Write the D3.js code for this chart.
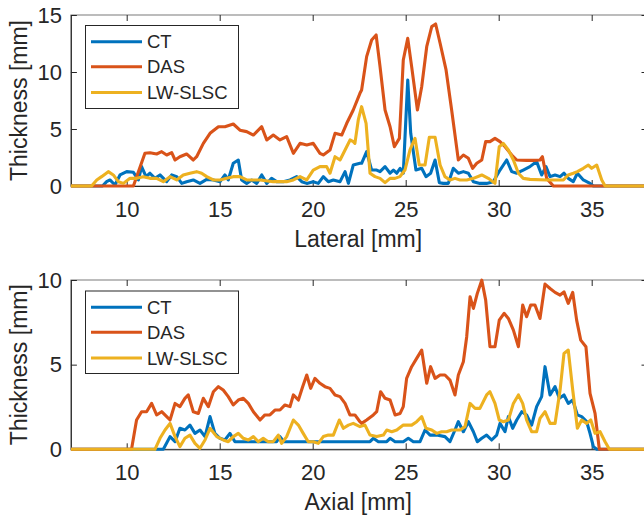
<!DOCTYPE html>
<html>
<head>
<meta charset="utf-8">
<script src="https://cdn.jsdelivr.net/npm/d3@7"></script>
<style>
  html, body { margin: 0; padding: 0; background: #fff; }
  svg { display: block; }
  text { font-family: "Liberation Sans", Arial, Helvetica, sans-serif; fill: #262626; }
</style>
</head>
<body>
<svg id="chart" width="644" height="517"></svg>
<script>
// ---------------- DATA ----------------
const seriesNames = ["CT", "DAS", "LW-SLSC"];
const xTicks = [10, 15, 20, 25, 30, 35];
const topYTicks = [0, 5, 10, 15];
const bottomYTicks = [0, 5, 10];

// Lateral panel
const latCTx = [7, 8.7, 8.92, 9.1, 9.37, 9.64, 10.0, 10.36, 10.63, 10.8, 11.04, 11.25, 11.52, 11.79, 12.15, 12.42, 12.69, 12.96, 13.22, 13.58, 13.94, 14.3, 14.66, 15.02, 15.28, 15.46, 15.73, 16.0, 16.18, 16.45, 16.72, 16.99, 17.26, 17.53, 17.79, 18.06, 18.42, 18.78, 19.14, 19.41, 19.68, 20.03, 20.3, 20.57, 20.84, 21.11, 21.47, 21.74, 21.92, 22.18, 22.54, 22.63, 22.9, 23.17, 23.44, 23.62, 23.89, 24.16, 24.34, 24.52, 24.7, 24.87, 25.11, 25.27, 25.55, 25.86, 26.09, 26.34, 26.58, 26.81, 27.02, 27.29, 27.56, 27.83, 28.1, 28.37, 28.64, 28.99, 29.35, 29.71, 30.07, 30.43, 30.7, 30.97, 31.32, 31.68, 32.04, 32.31, 32.54, 32.76, 33.03, 33.3, 33.51, 33.74, 34.01, 34.23, 34.55, 34.91, 35.09, 38];
const latCTy = [0, 0, 0.38, 0.53, 0.09, 0.97, 1.26, 1.2, 0.53, 1.7, 0.82, 1.12, 0.67, 0.97, 0.38, 0.97, 0.82, 0.23, 0.38, 0.53, 0.23, 0.58, 0.53, 0.38, 0.97, 0.53, 1.99, 2.28, 0.53, 0.23, 0.53, 0.23, 0.97, 0.23, 0.67, 0.38, 0.38, 0.53, 0.82, 0.38, 0.23, 0.38, 0.23, 0.82, 0.38, 0.53, 0.38, 1.26, 0.23, 1.84, 1.99, 1.99, 3.01, 1.4, 1.4, 1.26, 1.7, 1.12, 1.4, 1.12, 1.55, 1.12, 9.3, 4.62, 1.4, 1.55, 0.82, 1.12, 2.28, 0.29, 0.23, 0.23, 1.55, 1.12, 1.26, 1.12, 0.38, 0.23, 0.23, 0.38, 1.4, 2.28, 1.26, 1.12, 1.4, 1.7, 2.14, 0.97, 1.7, 0.82, 0.97, 0.82, 1.12, 0.67, 0.38, 1.12, 0.53, 0.23, 0, 0];

const latDASx = [7, 10.36, 10.98, 11.25, 11.61, 11.88, 12.15, 12.42, 12.6, 12.86, 13.22, 13.58, 13.76, 14.12, 14.48, 14.93, 15.28, 15.73, 16.09, 16.45, 16.81, 17.26, 17.53, 17.88, 18.24, 18.6, 18.96, 19.32, 19.68, 20.03, 20.39, 20.57, 20.93, 21.2, 21.56, 21.83, 22.18, 22.54, 22.63, 22.9, 23.17, 23.41, 23.62, 23.89, 24.16, 24.39, 24.66, 24.87, 25.11, 25.32, 25.63, 25.86, 26.13, 26.4, 26.61, 26.85, 27.17, 27.47, 27.83, 28.1, 28.37, 28.6, 28.82, 29.09, 29.3, 29.53, 29.8, 30.07, 30.34, 30.7, 30.97, 31.5, 31.86, 32.22, 32.35, 32.58, 32.94, 38];
const latDASy = [0, 0, 2.87, 2.92, 2.81, 3.01, 2.72, 2.92, 2.28, 2.57, 2.81, 2.28, 2.57, 3.74, 4.62, 5.2, 5.2, 5.44, 4.9, 4.77, 4.47, 5.2, 4.04, 4.47, 4.04, 4.33, 2.87, 3.74, 3.6, 3.74, 2.87, 2.72, 3.16, 4.62, 4.47, 5.5, 6.67, 8.13, 8.42, 11.35, 12.81, 13.25, 10.47, 6.67, 5.2, 3.45, 4.18, 11.05, 12.95, 10.47, 6.67, 8.71, 12.22, 13.98, 14.21, 12.52, 10.18, 6.67, 2.28, 2.72, 2.43, 1.55, 1.99, 2.28, 3.89, 3.89, 4.18, 3.89, 3.45, 2.72, 2.28, 2.25, 2.25, 2.28, 2.57, 0.67, 0, 0];

const latLWx = [7, 8.11, 8.39, 8.65, 9.01, 9.28, 9.55, 9.82, 10.18, 10.53, 10.89, 11.25, 11.61, 11.97, 12.33, 12.69, 13.04, 13.4, 13.76, 14.03, 14.3, 14.66, 15.02, 15.37, 15.73, 16.09, 16.45, 17.17, 17.88, 18.6, 18.96, 19.32, 19.68, 20.03, 20.39, 20.75, 20.93, 21.2, 21.47, 21.74, 22.01, 22.18, 22.27, 22.45, 22.63, 22.87, 23.08, 23.35, 23.62, 23.89, 24.16, 24.42, 24.69, 24.96, 25.23, 25.5, 25.73, 26.04, 26.27, 26.58, 26.85, 27.11, 27.38, 27.65, 27.92, 28.28, 28.64, 29.09, 29.44, 29.8, 30.03, 30.25, 30.52, 30.79, 31.06, 31.32, 31.68, 32.58, 33.48, 33.74, 34.01, 34.23, 34.55, 34.82, 35.0, 35.27, 35.54, 35.72, 38];
const latLWy = [0, 0, 0.53, 0.82, 1.26, 0.97, 0.38, 0.23, 0.67, 0.67, 0.82, 0.67, 0.67, 0.38, 0.82, 0.53, 0.97, 1.12, 1.26, 1.12, 0.82, 0.53, 0.53, 0.67, 0.82, 0.82, 0.53, 0.53, 0.38, 0.38, 0.53, 0.82, 0.53, 1.4, 1.7, 1.7, 1.12, 2.57, 2.28, 3.16, 4.04, 3.89, 3.74, 5.79, 6.96, 5.5, 1.12, 0.82, 0.67, 0.29, 0.67, 0.67, 0.82, 1.4, 3.16, 4.18, 1.84, 1.84, 4.27, 4.27, 1.84, 0.82, 0.53, 0.67, 0.53, 0.53, 0.67, 0.97, 0.67, 0.23, 3.45, 3.74, 3.16, 2.28, 1.12, 0.67, 0.58, 0.53, 0.53, 0.97, 1.12, 1.26, 1.55, 1.84, 1.55, 1.84, 0.53, 0, 0];

// Axial panel
const axCTx = [7, 11.97, 12.33, 12.6, 12.86, 13.13, 13.4, 13.67, 13.94, 14.21, 14.48, 14.74, 15.01, 15.28, 15.55, 15.82, 18.06, 18.24, 18.45, 23.08, 23.26, 23.53, 23.98, 24.16, 24.43, 24.87, 25.14, 25.41, 25.77, 26.04, 26.31, 26.67, 27.11, 27.38, 27.65, 27.83, 28.1, 28.37, 28.64, 28.85, 29.09, 29.35, 29.62, 29.89, 30.07, 30.34, 30.52, 30.75, 30.97, 31.24, 31.5, 31.77, 32.04, 32.31, 32.49, 32.76, 33.03, 33.26, 33.51, 33.74, 33.98, 34.23, 34.46, 34.73, 34.91, 35.09, 35.27, 38];
const axCTy = [0, 0, 0.75, 0.45, 1.24, 1.14, 1.43, 0.94, 1.14, 0.75, 1.93, 0.94, 0.65, 0.55, 0.94, 0.45, 0.45, 0.75, 0.45, 0.45, 0.65, 0.45, 0.45, 0.65, 0.45, 0.45, 0.65, 0.45, 0.45, 1.14, 0.84, 0.84, 0.75, 0.45, 1.14, 1.63, 1.04, 1.63, 1.04, 0.45, 0.65, 0.84, 0.55, 0.84, 1.53, 1.04, 1.93, 1.24, 1.73, 2.22, 2.03, 1.43, 2.52, 3.11, 4.88, 3.21, 3.7, 3.01, 3.21, 2.71, 2.91, 2.03, 1.93, 1.63, 0.94, 0.16, 0, 0];

const axDASx = [7, 10.26, 10.53, 10.8, 11.07, 11.34, 11.61, 11.88, 12.15, 12.33, 12.6, 12.86, 13.13, 13.31, 13.58, 13.85, 14.12, 14.39, 14.66, 14.93, 15.19, 15.46, 15.73, 16.0, 16.27, 16.54, 16.81, 17.17, 17.43, 17.7, 17.97, 18.24, 18.51, 18.78, 18.96, 19.23, 19.46, 19.68, 19.89, 20.12, 20.39, 20.66, 20.93, 21.2, 21.47, 21.74, 22.0, 22.27, 22.54, 22.63, 22.9, 23.26, 23.44, 23.65, 23.89, 24.16, 24.43, 24.7, 24.87, 25.05, 25.32, 25.59, 25.86, 26.13, 26.34, 26.58, 26.85, 27.11, 27.38, 27.65, 27.83, 28.1, 28.28, 28.46, 28.64, 28.85, 29.09, 29.3, 29.53, 29.8, 30.03, 30.29, 30.52, 30.79, 31.06, 31.29, 31.5, 31.72, 31.95, 32.22, 32.49, 32.76, 33.03, 33.3, 33.51, 33.74, 33.98, 34.19, 34.41, 34.69, 34.91, 35.18, 35.41, 38];
const axDASy = [0, 0, 1.73, 2.22, 2.22, 2.71, 2.03, 2.22, 1.93, 1.73, 2.71, 2.52, 3.01, 3.21, 2.22, 2.12, 3.01, 2.52, 3.4, 3.7, 3.5, 3.11, 2.62, 2.91, 3.01, 2.71, 2.22, 1.73, 2.03, 2.03, 2.32, 2.32, 2.62, 2.52, 3.21, 2.91, 3.7, 4.39, 3.6, 4.19, 3.9, 3.7, 3.6, 3.21, 3.11, 2.71, 2.03, 2.03, 1.63, 1.53, 1.73, 2.03, 2.22, 3.4, 3.01, 2.91, 2.03, 2.12, 2.52, 4.19, 4.88, 5.37, 5.86, 3.9, 4.88, 4.19, 4.39, 4.39, 4.09, 3.21, 4.39, 5.17, 6.65, 9.01, 8.32, 9.21, 9.99, 8.81, 6.06, 6.06, 7.63, 8.03, 7.73, 7.04, 6.06, 8.52, 7.83, 8.52, 8.52, 7.73, 9.76, 9.5, 9.27, 9.11, 9.3, 8.62, 9.27, 7.63, 6.45, 6.06, 3.3, 2.12, 0, 0];

const axLWx = [7, 11.52, 11.79, 12.06, 12.33, 12.6, 12.86, 13.13, 13.4, 13.67, 13.94, 14.21, 14.48, 14.84, 15.19, 15.46, 15.73, 16.0, 16.27, 16.54, 16.81, 17.07, 17.34, 17.61, 17.88, 18.15, 18.33, 18.6, 18.96, 19.23, 19.49, 19.76, 20.03, 20.3, 20.57, 20.84, 21.11, 21.43, 21.65, 21.92, 22.18, 22.54, 22.81, 23.08, 23.44, 23.8, 23.98, 24.25, 24.52, 24.87, 25.32, 25.59, 25.86, 26.09, 26.4, 26.67, 26.93, 27.2, 27.47, 27.92, 28.19, 28.46, 28.73, 28.99, 29.35, 29.53, 29.8, 30.03, 30.25, 30.52, 30.79, 31.06, 31.29, 31.5, 31.77, 32.04, 32.22, 32.49, 32.76, 33.03, 33.3, 33.51, 33.74, 33.98, 34.23, 34.46, 34.73, 34.95, 35.18, 35.45, 35.72, 35.95, 38];
const axLWy = [0, 0, 0.65, 1.14, 1.53, 0.75, 0.16, 0.65, 0.84, 0.35, 0.06, 0.55, 1.24, 0.75, 0.55, 0.45, 0.75, 0.94, 0.65, 0.55, 0.75, 0.45, 0.65, 0.45, 0.45, 0.84, 0.35, 0.75, 1.73, 1.43, 0.94, 0.45, 0.45, 0.35, 0.75, 0.84, 0.84, 1.73, 1.24, 1.43, 1.53, 1.34, 1.43, 0.84, 0.75, 0.84, 1.14, 1.04, 1.14, 1.43, 1.43, 1.63, 1.93, 1.24, 1.14, 0.94, 1.04, 1.04, 1.14, 1.14, 1.34, 2.71, 2.42, 2.42, 3.21, 3.4, 2.71, 1.73, 1.63, 1.73, 2.71, 3.21, 2.71, 1.73, 1.04, 1.04, 1.83, 2.22, 1.53, 1.53, 3.5, 5.66, 5.86, 3.5, 1.24, 1.73, 1.53, 1.73, 0.94, 1.04, 0.45, 0, 0];

// ---------------- STYLE ----------------
const colors = ["#0072BD", "#D95319", "#EDB120"];
const axisColor = "#262626";

const svg = d3.select("#chart");
const x = d3.scaleLinear().domain([7, 38]).range([70.9, 647.5]);

const panels = [
  { top: 15, bottom: 186, yMax: 15, yTicks: topYTicks, xLabel: "Lateral [mm]",
    series: [[latCTx, latCTy], [latDASx, latDASy], [latLWx, latLWy]],
    legend: { x: 85, y: 25, w: 153, h: 83 } },
  { top: 280, bottom: 449.3, yMax: 10, yTicks: bottomYTicks, xLabel: "Axial [mm]",
    series: [[axCTx, axCTy], [axDASx, axDASy], [axLWx, axLWy]],
    legend: { x: 85, y: 290.5, w: 153, h: 82.5 } }
];

panels.forEach(p => {
  const y = d3.scaleLinear().domain([0, p.yMax]).range([p.bottom, p.top]);
  const g = svg.append("g");
  const x0 = x.range()[0], x1 = x.range()[1];

  // box
  g.append("rect")
    .attr("x", x0).attr("y", p.top)
    .attr("width", x1 - x0).attr("height", p.bottom - p.top)
    .attr("fill", "none").attr("stroke", "#7a7a7a").attr("stroke-width", 1);

  const tick = 6;
  // bottom axis
  const gb = g.append("g").attr("transform", `translate(0,${p.bottom})`)
    .call(d3.axisBottom(x).tickValues(xTicks).tickSizeInner(-tick).tickSizeOuter(0).tickFormat(d3.format("d")));
  gb.selectAll("text").attr("y", 31).attr("dy", null).style("font-size", "22px");
  // top axis (ticks only)
  g.append("g").attr("transform", `translate(0,${p.top})`)
    .call(d3.axisTop(x).tickValues(xTicks).tickSizeInner(-tick).tickSizeOuter(0).tickFormat(""))
    .select(".domain").remove();
  // left axis
  const gl = g.append("g").attr("transform", `translate(${x0},0)`)
    .call(d3.axisLeft(y).tickValues(p.yTicks).tickSizeInner(-tick).tickSizeOuter(0).tickFormat(d3.format("d")));
  gl.selectAll("text").attr("x", -9).style("font-size", "22px");
  // right axis (ticks only)
  g.append("g").attr("transform", `translate(${x1},0)`)
    .call(d3.axisRight(y).tickValues(p.yTicks).tickSizeInner(-tick).tickSizeOuter(0).tickFormat(""))
    .select(".domain").remove();

  g.selectAll(".domain").attr("stroke", axisColor);
  g.selectAll(".tick line").attr("stroke", axisColor);
  g.selectAll(".tick text").attr("fill", axisColor).style("font-family", '"Liberation Sans", Arial, sans-serif');

  // lines
  const line = d3.line().x(d => x(d[0])).y(d => y(d[1]));
  p.series.forEach((s, i) => {
    const pts = s[0].map((v, k) => [v, s[1][k]]);
    g.append("path").datum(pts)
      .attr("d", line)
      .attr("fill", "none")
      .attr("stroke", colors[i])
      .attr("stroke-width", 3.1)
      .attr("stroke-linejoin", "round");
  });

  // axis labels
  g.append("text")
    .attr("x", (x0 + x1) / 2 - 1).attr("y", p.bottom + 60.5)
    .attr("text-anchor", "middle")
    .style("font-size", "23px")
    .text(p.xLabel);
  g.append("text")
    .attr("transform", `translate(27,${(p.top + p.bottom) / 2}) rotate(-90)`)
    .attr("text-anchor", "middle")
    .style("font-size", "23px")
    .text("Thickness [mm]");

  // legend
  const L = p.legend;
  const lg = g.append("g");
  lg.append("rect").attr("x", L.x + 0.5).attr("y", L.y + 0.5).attr("width", L.w).attr("height", L.h)
    .attr("fill", "#fff").attr("stroke", axisColor).attr("stroke-width", 1);
  const rowY = [16.8, 41.8, 67.5];
  seriesNames.forEach((name, i) => {
    lg.append("line")
      .attr("x1", L.x + 6).attr("x2", L.x + 57)
      .attr("y1", L.y + rowY[i]).attr("y2", L.y + rowY[i])
      .attr("stroke", colors[i]).attr("stroke-width", 3);
    lg.append("text")
      .attr("x", L.x + 62).attr("y", L.y + rowY[i])
      .attr("dy", "0.36em")
      .style("font-size", "18.5px")
      .attr("fill", "#000")
      .text(name);
  });
});
</script>
</body>
</html>
